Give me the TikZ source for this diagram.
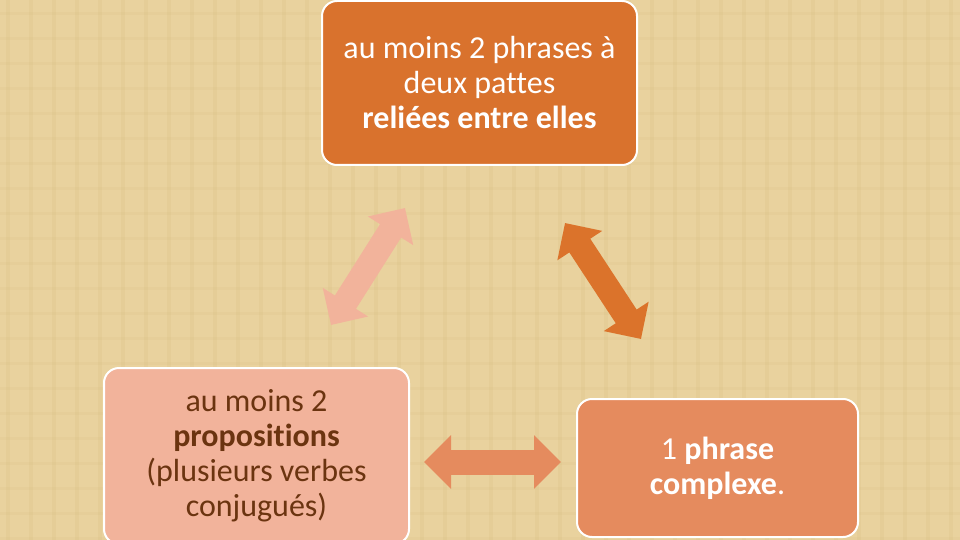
\documentclass[tikz,border=0pt]{standalone}
\usepackage{fontspec}
\setmainfont{Carlito}[Ligatures={NoCommon}]
\usepackage{tikz}
\usetikzlibrary{arrows.meta}
\definecolor{parchment}{HTML}{E9D29E}
\definecolor{weave}{HTML}{D6BA7E}
\definecolor{rust}{HTML}{D9722D}
\definecolor{salmon}{HTML}{F2B39B}
\definecolor{coral}{HTML}{E58B5E}
\definecolor{brownink}{HTML}{6B3410}
\tikzstyle{every node}=[rounded corners=15pt,draw=white,line width=2pt,align=center,font=\fontsize{32}{35}\selectfont]
\tikzstyle{topbox}=[fill=rust,text=white,minimum width=315pt,minimum height=164pt]
\tikzstyle{leftbox}=[fill=salmon,text=brownink,minimum width=305pt,minimum height=176pt]
\tikzstyle{rightbox}=[fill=coral,text=white,minimum width=281pt,minimum height=138pt]
\tikzstyle{twoway}=[line width=25pt,{Triangle[length=27pt,width=52pt]}-{Triangle[length=27pt,width=52pt]}]

\begin{document}
\begin{tikzpicture}[x=1pt,y=-1pt]
  \useasboundingbox (0,0) rectangle (960,540);
  \clip (0,0) rectangle (960,540);
  \fill[parchment] (0,0) rectangle (960,540);
  % woven texture
  \foreach \x in {6,29,...,960}
    \fill[weave,opacity=0.2] (\x,0) rectangle ++(4,540);
  \foreach \y in {12,37,...,540}
    \fill[weave,opacity=0.15] (0,\y) rectangle ++(960,3);

  \node[topbox] (phrases) at (479.5,83) {au moins 2 phrases à\\deux pattes\\\textbf{reliées entre elles}};
  \node[leftbox] (props) at (256.5,456) {au moins 2\\\textbf{propositions}\\(plusieurs verbes\\conjugués)};
  \node[rightbox] (complexe) at (717.5,468) {1 \textbf{phrase}\\\textbf{complexe}.};

  \coordinate (lefttop) at (405,208);
  \coordinate (leftbot) at (331,325);
  \coordinate (righttop) at (565,223);
  \coordinate (rightbot) at (641,339);
  \coordinate (bottomleft) at (424,462);
  \coordinate (bottomright) at (561,462);

  \draw[twoway,salmon] (leftbot) -- (lefttop);
  \draw[twoway,rust!95!orange] (righttop) -- (rightbot);
  \draw[twoway,coral] (bottomleft) -- (bottomright);
\end{tikzpicture}
\end{document}
